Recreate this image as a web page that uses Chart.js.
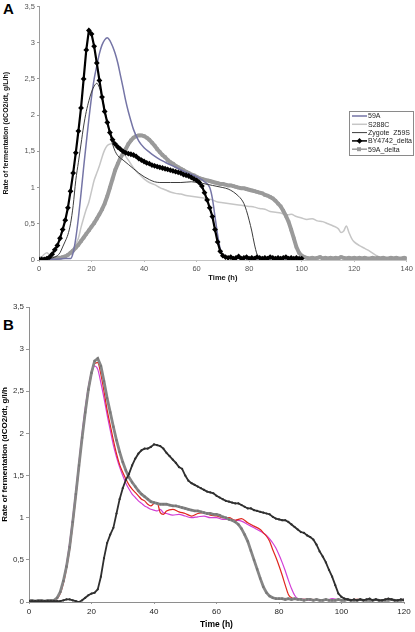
<!DOCTYPE html>
<html>
<head>
<meta charset="utf-8">
<script src="https://cdn.jsdelivr.net/npm/chart.js@4.4.0/dist/chart.umd.min.js"></script>
<style>
  body { margin: 0; background: #fff; width: 415px; height: 632px; position: relative; overflow: hidden;
         font-family: "Liberation Sans", Arial, sans-serif; }
  canvas { position: absolute; left: 0; }
  #chartA { top: 0; }
  #chartB { top: 300px; }
  .tag { position: absolute; left: 3px; font-weight: bold; font-size: 15px; color: #000; }
</style>
</head>
<body>
<div class="tag" style="top:0px">A</div>
<div class="tag" style="top:316px">B</div>
<canvas id="chartA" width="415" height="290"></canvas>
<canvas id="chartB" width="415" height="332"></canvas>
<script>
// ---------- panel A : times (h) and rates (g/L/h) ----------
const a59A_t = [0, 5, 10, 12, 13, 14, 15, 16, 17, 18, 19, 20, 21, 22, 23, 24, 25, 26, 27, 28, 29, 30, 31, 32, 33, 34, 35, 36, 38, 40, 42, 45, 48, 52, 56, 60, 63, 65, 66, 67, 68, 69, 70, 72, 80, 90, 100];
const a59A_v = [0.01, 0.01, 0.02, 0.02, 0.1, 0.3, 0.58, 0.92, 1.28, 1.62, 1.95, 2.25, 2.5, 2.68, 2.85, 2.97, 3.04, 3.07, 3.03, 2.95, 2.85, 2.72, 2.55, 2.38, 2.2, 2.05, 1.92, 1.8, 1.64, 1.55, 1.49, 1.41, 1.35, 1.28, 1.21, 1.15, 1.08, 1.0, 0.85, 0.6, 0.35, 0.15, 0.06, 0.03, 0.02, 0.02, 0.02];

const aS288C_t = [0, 1, 2, 3, 4, 5, 6, 8, 10, 12, 13, 14, 15, 16, 17, 18, 19, 20, 21, 22, 23, 24, 25, 26, 27, 28, 29, 30, 31, 32, 33, 34, 36, 38, 40, 42, 44, 46, 48, 50, 52, 54, 56, 58, 60, 62, 64, 66, 68, 70, 72, 74, 76, 78, 80, 82, 84, 86, 88, 90, 92, 94, 96, 98, 100, 102, 104, 106, 108, 110, 112, 114, 115, 116, 117, 118, 119, 120, 122, 124, 126, 128, 130, 132, 135, 140];
const aS288C_v = [0.02, 0.04, 0.08, 0.1, 0.07, 0.05, 0.04, 0.04, 0.05, 0.1, 0.15, 0.22, 0.3, 0.45, 0.58, 0.7, 0.8, 0.95, 1.1, 1.2, 1.3, 1.42, 1.52, 1.58, 1.6, 1.61, 1.6, 1.57, 1.53, 1.48, 1.43, 1.38, 1.27, 1.19, 1.12, 1.07, 1.04, 1.0, 0.97, 0.94, 0.92, 0.91, 0.89, 0.88, 0.87, 0.86, 0.85, 0.83, 0.8, 0.79, 0.78, 0.77, 0.76, 0.75, 0.74, 0.73, 0.71, 0.7, 0.67, 0.66, 0.65, 0.62, 0.63, 0.6, 0.58, 0.56, 0.57, 0.54, 0.53, 0.5, 0.47, 0.43, 0.38, 0.4, 0.47, 0.38, 0.3, 0.25, 0.2, 0.16, 0.12, 0.07, 0.03, 0.02, 0.02, 0.02];

const aZyg_t = [0, 4, 6, 7, 8, 9, 10, 11, 12, 13, 14, 15, 16, 17, 18, 19, 20, 21, 22, 23, 24, 25, 26, 27, 28, 29, 30, 32, 34, 36, 38, 40, 42, 44, 46, 50, 54, 58, 62, 66, 70, 72, 74, 76, 77, 78, 79, 80, 81, 82, 83, 84, 86, 90, 100];
const aZyg_v = [0.01, 0.02, 0.04, 0.06, 0.1, 0.18, 0.26, 0.35, 0.5, 0.75, 1.1, 1.35, 1.6, 1.85, 2.05, 2.2, 2.32, 2.4, 2.44, 2.38, 2.25, 2.08, 1.9, 1.74, 1.6, 1.5, 1.44, 1.38, 1.32, 1.26, 1.2, 1.15, 1.11, 1.08, 1.07, 1.07, 1.07, 1.08, 1.06, 1.03, 1.0, 0.98, 0.94, 0.88, 0.84, 0.78, 0.68, 0.55, 0.4, 0.22, 0.08, 0.03, 0.02, 0.02, 0.02];

// hourly readings
const aBY_v = [0.01, 0.01, 0.01, 0.02, 0.04, 0.08, 0.14, 0.2, 0.3, 0.42,
  0.55, 0.72, 0.95, 1.2, 1.48, 1.78, 2.1, 2.5, 2.9, 3.17,
  3.12, 2.95, 2.72, 2.48, 2.25, 2.05, 1.9, 1.76, 1.66, 1.6,
  1.56, 1.53, 1.5, 1.48, 1.47, 1.46, 1.45, 1.43, 1.4, 1.38,
  1.36, 1.34, 1.33, 1.31, 1.3, 1.29, 1.28, 1.27, 1.26, 1.25,
  1.24, 1.23, 1.22, 1.21, 1.2, 1.18, 1.17, 1.16, 1.14, 1.12,
  1.1, 1.07, 1.02, 0.93, 0.83, 0.72, 0.6, 0.42, 0.25, 0.12,
  0.06, 0.04, 0.03, 0.04, 0.02, 0.03, 0.05, 0.02, 0.03, 0.04,
  0.02, 0.03, 0.02, 0.04, 0.03, 0.02, 0.03, 0.02, 0.04, 0.03,
  0.02, 0.03, 0.02, 0.03, 0.04, 0.02, 0.03, 0.02, 0.03, 0.02, 0.02];

const a59Ad_v = [0.02, 0.02, 0.01, 0.02, 0.03, 0.02, 0.02, 0.03, 0.03, 0.04,
  0.05, 0.07, 0.1, 0.13, 0.17, 0.21, 0.26, 0.31, 0.36, 0.41,
  0.46, 0.51, 0.57, 0.63, 0.7, 0.78, 0.88, 1.0, 1.12, 1.24,
  1.33, 1.41, 1.47, 1.53, 1.6, 1.65, 1.69, 1.71, 1.72, 1.72,
  1.71, 1.69, 1.66, 1.62, 1.58, 1.53, 1.49, 1.45, 1.42, 1.38,
  1.35, 1.33, 1.3, 1.28, 1.26, 1.24, 1.22, 1.2, 1.18, 1.17,
  1.15, 1.13, 1.12, 1.11, 1.1, 1.09, 1.08, 1.07, 1.06, 1.05,
  1.05, 1.04, 1.03, 1.03, 1.02, 1.01, 1.0, 0.99, 0.99, 0.98,
  0.97, 0.96, 0.95, 0.94, 0.93, 0.92, 0.9, 0.89, 0.87, 0.85,
  0.82, 0.78, 0.74, 0.68, 0.61, 0.53, 0.42, 0.3, 0.18, 0.1,
  0.06, 0.04, 0.03, 0.02, 0.03, 0.02, 0.03, 0.04, 0.02, 0.03,
  0.02, 0.03, 0.02, 0.03, 0.02, 0.04, 0.03, 0.02, 0.03, 0.02,
  0.03, 0.02, 0.03, 0.02, 0.03, 0.02, 0.02, 0.03, 0.02, 0.03,
  0.02, 0.03, 0.02, 0.02, 0.03, 0.02, 0.03, 0.02, 0.02, 0.03, 0.02];

// ---------- panel B ----------
const bRed_t = [0, 4, 8, 9, 10, 11, 12, 13, 14, 15, 16, 17, 18, 19, 20, 21, 22, 23, 24, 25, 26, 27, 28, 29, 30, 31, 32, 33, 34, 35, 36, 37, 38, 39, 40, 41, 42, 43, 44, 46, 48, 50, 52, 54, 56, 58, 60, 62, 64, 66, 68, 70, 72, 74, 75, 76, 77, 78, 79, 80, 81, 82, 83, 84, 86, 90, 95, 100, 105, 110, 115, 120];
const bRed_v = [0.01, 0.01, 0.02, 0.04, 0.1, 0.22, 0.4, 0.62, 0.92, 1.25, 1.6, 1.95, 2.25, 2.5, 2.7, 2.83, 2.84, 2.7, 2.5, 2.28, 2.1, 1.92, 1.76, 1.63, 1.54, 1.46, 1.39, 1.34, 1.3, 1.26, 1.22, 1.2, 1.16, 1.14, 1.17, 1.18, 1.06, 1.04, 1.08, 1.1, 1.07, 1.05, 1.02, 1.05, 1.06, 1.03, 1.02, 1.0, 1.0, 0.97, 0.99, 0.94, 0.9, 0.86, 0.82, 0.78, 0.72, 0.62, 0.53, 0.43, 0.32, 0.2, 0.09, 0.05, 0.03, 0.03, 0.02, 0.02, 0.03, 0.02, 0.03, 0.02];

const bMag_t = [0, 4, 8, 9, 10, 11, 12, 13, 14, 15, 16, 17, 18, 19, 20, 21, 22, 23, 24, 25, 26, 27, 28, 29, 30, 31, 32, 33, 34, 35, 36, 37, 38, 39, 40, 41, 42, 43, 44, 46, 48, 50, 52, 54, 56, 58, 60, 62, 64, 66, 68, 70, 72, 74, 76, 77, 78, 79, 80, 81, 82, 83, 84, 85, 86, 88, 90, 95, 97, 100, 105, 110, 115, 120];
const bMag_v = [0.01, 0.01, 0.02, 0.05, 0.12, 0.25, 0.45, 0.7, 1.0, 1.32, 1.66, 2.0, 2.3, 2.55, 2.72, 2.8, 2.76, 2.6, 2.42, 2.22, 2.04, 1.86, 1.72, 1.6, 1.5, 1.41, 1.34, 1.28, 1.24, 1.2, 1.17, 1.14, 1.12, 1.1, 1.09, 1.08, 1.1, 1.06, 1.05, 1.03, 1.04, 1.02, 1.0, 1.01, 1.02, 1.0, 1.0, 0.98, 0.98, 0.97, 0.96, 0.92, 0.88, 0.84, 0.79, 0.75, 0.7, 0.64, 0.56, 0.47, 0.37, 0.26, 0.16, 0.08, 0.04, 0.03, 0.02, 0.02, 0.04, 0.02, 0.02, 0.02, 0.02, 0.03];

// hourly readings
const bGray_v = [0.02, 0.02, 0.01, 0.02, 0.02, 0.01, 0.02, 0.02, 0.02, 0.05,
  0.12, 0.25, 0.42, 0.65, 0.95, 1.28, 1.62, 1.95, 2.25, 2.52,
  2.72, 2.86, 2.89, 2.8, 2.62, 2.42, 2.25, 2.08, 1.92, 1.78,
  1.66, 1.56, 1.48, 1.42, 1.37, 1.32, 1.28, 1.25, 1.22, 1.19,
  1.18, 1.17, 1.16, 1.16, 1.16, 1.15, 1.14, 1.14, 1.13, 1.12,
  1.11, 1.1, 1.09, 1.08, 1.08, 1.07, 1.06, 1.05, 1.05, 1.04,
  1.04, 1.03, 1.01, 1.0, 0.98, 0.97, 0.95, 0.92, 0.87, 0.8,
  0.72, 0.61, 0.5, 0.39, 0.28, 0.18, 0.11, 0.07, 0.05, 0.04,
  0.04, 0.04, 0.03, 0.04, 0.03, 0.04, 0.03, 0.03, 0.02, 0.03,
  0.03, 0.02, 0.03, 0.02, 0.02, 0.03, 0.02, 0.02, 0.02, 0.03,
  0.02, 0.02, 0.03, 0.02, 0.02, 0.02, 0.03, 0.02, 0.02, 0.02,
  0.02, 0.03, 0.02, 0.02, 0.02, 0.02, 0.03, 0.02, 0.02, 0.02, 0.03];

const bDark_v = [0.01, 0.01, 0.01, 0.01, 0.01, 0.01, 0.01, 0.01, 0.01, 0.01,
  0.01, 0.02, 0.03, 0.03, 0.02, 0.01, 0.0, 0.02, 0.05, 0.08,
  0.1, 0.11, 0.15, 0.3, 0.52, 0.7, 0.8, 0.88, 1.05, 1.22,
  1.35, 1.45, 1.52, 1.62, 1.7, 1.76, 1.8, 1.82, 1.82, 1.84,
  1.87, 1.86, 1.85, 1.82, 1.77, 1.73, 1.69, 1.65, 1.6, 1.58,
  1.5, 1.44, 1.41, 1.39, 1.37, 1.35, 1.33, 1.31, 1.3, 1.29,
  1.26, 1.24, 1.22, 1.2, 1.19, 1.18, 1.17, 1.17, 1.15, 1.13,
  1.11, 1.11, 1.09, 1.08, 1.07, 1.06, 1.05, 1.04, 1.01, 0.99,
  0.98, 0.97, 0.97, 0.95, 0.92, 0.89, 0.86, 0.83, 0.82, 0.79,
  0.77, 0.74, 0.68, 0.6, 0.54, 0.47, 0.38, 0.3, 0.2, 0.1,
  0.06, 0.04, 0.03, 0.02, 0.03, 0.02, 0.03, 0.02, 0.03, 0.04,
  0.02, 0.03, 0.02, 0.02, 0.03, 0.04, 0.03, 0.02, 0.02, 0.03, 0.02];

const yTicks = [0, 0.5, 1, 1.5, 2, 2.5, 3, 3.5];

// pair times with values
function pts(t, v) { return v.map((y, i) => ({ x: t[i], y: y })); }
function hourly(v) { return v.map((y, i) => ({ x: i, y: y })); }
const comma = v => String(v).replace('.', ',');

// legend drawn inside the plot of panel A
const boxLegend = {
  id: 'boxLegend',
  afterDraw(chart) {
    const ctx = chart.ctx;
    const x0 = 349, y0 = 111, w = 64, h = 44;
    ctx.save();
    ctx.fillStyle = '#fff';
    ctx.fillRect(x0, y0, w, h);
    ctx.strokeStyle = '#8a8a8a';
    ctx.lineWidth = 1;
    ctx.strokeRect(x0 + 0.5, y0 + 0.5, w, h);
    ctx.font = '7px "Liberation Sans", Arial, sans-serif';
    ctx.textBaseline = 'middle';
    chart.data.datasets.forEach((ds, i) => {
      const y = y0 + 5 + i * 8.3;
      ctx.strokeStyle = ds.borderColor;
      ctx.lineWidth = Math.min(ds.borderWidth, 1.5);
      ctx.beginPath();
      ctx.moveTo(x0 + 3, y);
      ctx.lineTo(x0 + 18, y);
      ctx.stroke();
      if (ds.pointRadius > 0) {
        ctx.fillStyle = ds.pointBackgroundColor;
        ctx.beginPath();
        if (ds.pointStyle === 'rect') {
          ctx.rect(x0 + 8, y - 2, 4, 4);
        } else {
          ctx.moveTo(x0 + 10.5, y - 2.8);
          ctx.lineTo(x0 + 13.3, y);
          ctx.lineTo(x0 + 10.5, y + 2.8);
          ctx.lineTo(x0 + 7.7, y);
          ctx.closePath();
        }
        ctx.fill();
      }
      ctx.fillStyle = '#222';
      ctx.fillText(ds.label, x0 + 19, y + 0.5);
    });
    ctx.restore();
  }
};

const chartA = new Chart(document.getElementById('chartA'), {
  type: 'line',
  data: {
    datasets: [
      { label: '59A', data: pts(a59A_t, a59A_v), borderColor: '#7575a6', borderWidth: 1.5,
        pointRadius: 0, cubicInterpolationMode: 'monotone', order: 3 },
      { label: 'S288C', data: pts(aS288C_t, aS288C_v), borderColor: '#c6c6c6', borderWidth: 1.5,
        pointRadius: 0, cubicInterpolationMode: 'monotone', order: 5 },
      { label: 'Zygote  Z59S', data: pts(aZyg_t, aZyg_v), borderColor: '#3c3c3c', borderWidth: 1,
        pointRadius: 0, cubicInterpolationMode: 'monotone', order: 2 },
      { label: 'BY4742_delta', data: hourly(aBY_v), borderColor: '#000', borderWidth: 2.2,
        pointStyle: 'rectRot', pointRadius: 2.9, pointBackgroundColor: '#000', pointBorderWidth: 0, order: 1 },
      { label: '59A_delta', data: hourly(a59Ad_v), borderColor: '#9a9a9a', borderWidth: 4,
        pointStyle: 'rect', pointRadius: 2.3, pointBackgroundColor: '#9a9a9a', pointBorderWidth: 0, order: 4 }
    ]
  },
  options: {
    responsive: false,
    animation: false,
    layout: { padding: { top: 4, right: 8, left: 0, bottom: 0 } },
    plugins: { legend: { display: false }, tooltip: { enabled: false } },
    scales: {
      x: {
        type: 'linear', min: 0, max: 140,
        ticks: { stepSize: 20, color: '#555', padding: 2, maxRotation: 0, font: { size: 7.5, family: 'Liberation Sans' } },
        grid: { drawOnChartArea: false, tickLength: 2, color: '#bbb' },
        border: { color: '#c4c4c4' },
        title: { display: true, text: 'Time (h)', color: '#111', padding: { top: 0, bottom: 8 },
                 font: { size: 7.5, weight: 'bold', family: 'Liberation Sans' } },
        afterFit: s => { s.height = 30; }
      },
      y: {
        min: 0, max: 3.5,
        afterBuildTicks: s => { s.ticks = yTicks.map(v => ({ value: v })); },
        ticks: { callback: comma, color: '#555', padding: 2, font: { size: 7.5, family: 'Liberation Sans' } },
        grid: { drawOnChartArea: false, tickLength: 2, color: '#999' },
        border: { color: '#9a9a9a' },
        title: { display: true, text: 'Rate of fermentation (dCO2/dt, g/L/h)', color: '#111', padding: { top: 2, bottom: 0 },
                 font: { size: 7, weight: 'bold', family: 'Liberation Sans' } },
        afterFit: s => { s.width = 39; }
      }
    }
  },
  plugins: [boxLegend]
});

const chartB = new Chart(document.getElementById('chartB'), {
  type: 'line',
  data: {
    datasets: [
      { label: 'gray', data: hourly(bGray_v), borderColor: '#868686', borderWidth: 2.8,
        pointStyle: 'rect', pointRadius: 1.5, pointBackgroundColor: '#777', pointBorderWidth: 0, order: 1 },
      { label: 'red', data: pts(bRed_t, bRed_v), borderColor: '#e0261e', borderWidth: 1.2,
        pointRadius: 0, cubicInterpolationMode: 'monotone', order: 2 },
      { label: 'magenta', data: pts(bMag_t, bMag_v), borderColor: '#d23ed6', borderWidth: 1.2,
        pointRadius: 0, cubicInterpolationMode: 'monotone', order: 3 },
      { label: 'dark', data: hourly(bDark_v), borderColor: '#2f2f2f', borderWidth: 1.8,
        pointStyle: 'circle', pointRadius: 1.1, pointBackgroundColor: '#2f2f2f', pointBorderWidth: 0, order: 0 }
    ]
  },
  options: {
    responsive: false,
    animation: false,
    layout: { padding: { top: 7, right: 11, left: 0, bottom: 0 } },
    plugins: { legend: { display: false }, tooltip: { enabled: false } },
    scales: {
      x: {
        type: 'linear', min: 0, max: 120,
        ticks: { stepSize: 20, color: '#222', padding: 3, maxRotation: 0, font: { size: 8, family: 'Liberation Sans' } },
        grid: { drawOnChartArea: false, tickLength: 2, color: '#999' },
        border: { color: '#8e8e8e' },
        title: { display: true, text: 'Time (h)', color: '#000', padding: { top: 0, bottom: 2 },
                 font: { size: 8.5, weight: 'bold', family: 'Liberation Sans' } },
        afterFit: s => { s.height = 30; }
      },
      y: {
        min: 0, max: 3.5,
        afterBuildTicks: s => { s.ticks = yTicks.map(v => ({ value: v })); },
        ticks: { callback: comma, color: '#333', padding: 2, font: { size: 8, family: 'Liberation Sans' } },
        grid: { drawOnChartArea: false, tickLength: 3, color: '#999' },
        border: { color: '#8e8e8e' },
        title: { display: true, text: 'Rate of fermentation (dCO2/dt, g/l/h', color: '#000', padding: { top: 0, bottom: 0 },
                 font: { size: 8, weight: 'bold', family: 'Liberation Sans' } },
        afterFit: s => { s.width = 29; }
      }
    }
  }
});
</script>
</body>
</html>
